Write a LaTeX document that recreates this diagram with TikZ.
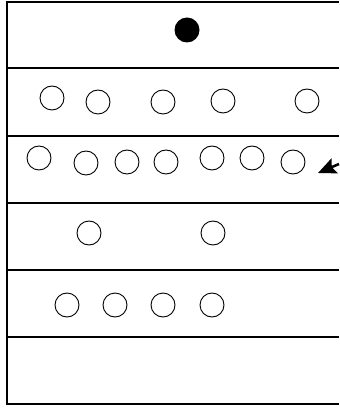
\documentclass[tikz,border=0pt]{standalone}
\usepackage{tikz}
\usetikzlibrary{arrows.meta}

\begin{document}
\begin{tikzpicture}[x=1pt,y=-1pt,
  ring/.style={draw,circle,line width=0.9pt,minimum size=24pt,inner sep=0pt},
  dot/.style={fill,circle,minimum size=25pt,inner sep=0pt},
  rule/.style={line width=2.4pt}]
\useasboundingbox (0,0) rectangle (339,411);
% rows
\draw[rule] (339,2) -- (7,2) -- (7,404) -- (339,404);
\foreach \y in {68,136,203,270,337}
  \draw[rule] (7,\y) -- (339,\y);
% row 1
\node[dot] (t) at (187,30) {};
% row 2
\node[ring] (a1) at (52,98) {};
\node[ring] (a2) at (98,102) {};
\node[ring] (a3) at (163,102) {};
\node[ring] (a4) at (223,101) {};
\node[ring] (a5) at (307,101) {};
% row 3
\node[ring] (b1) at (39,158) {};
\node[ring] (b2) at (86,163) {};
\node[ring] (b3) at (127,162) {};
\node[ring] (b4) at (166,162) {};
\node[ring] (b5) at (212,158) {};
\node[ring] (b6) at (252,158) {};
\node[ring] (b7) at (293,162) {};
\coordinate (p) at (318,173);
\coordinate (q) at (339,164);
\draw[line width=2.5pt,-{Stealth[length=18pt,width=16pt,inset=3pt]}] (q) -- (p);
% row 4
\node[ring] (c1) at (89,233) {};
\node[ring] (c2) at (213,233) {};
% row 5
\node[ring] (d1) at (67,305) {};
\node[ring] (d2) at (115,305) {};
\node[ring] (d3) at (163,305) {};
\node[ring] (d4) at (212,305) {};
\end{tikzpicture}
\end{document}
